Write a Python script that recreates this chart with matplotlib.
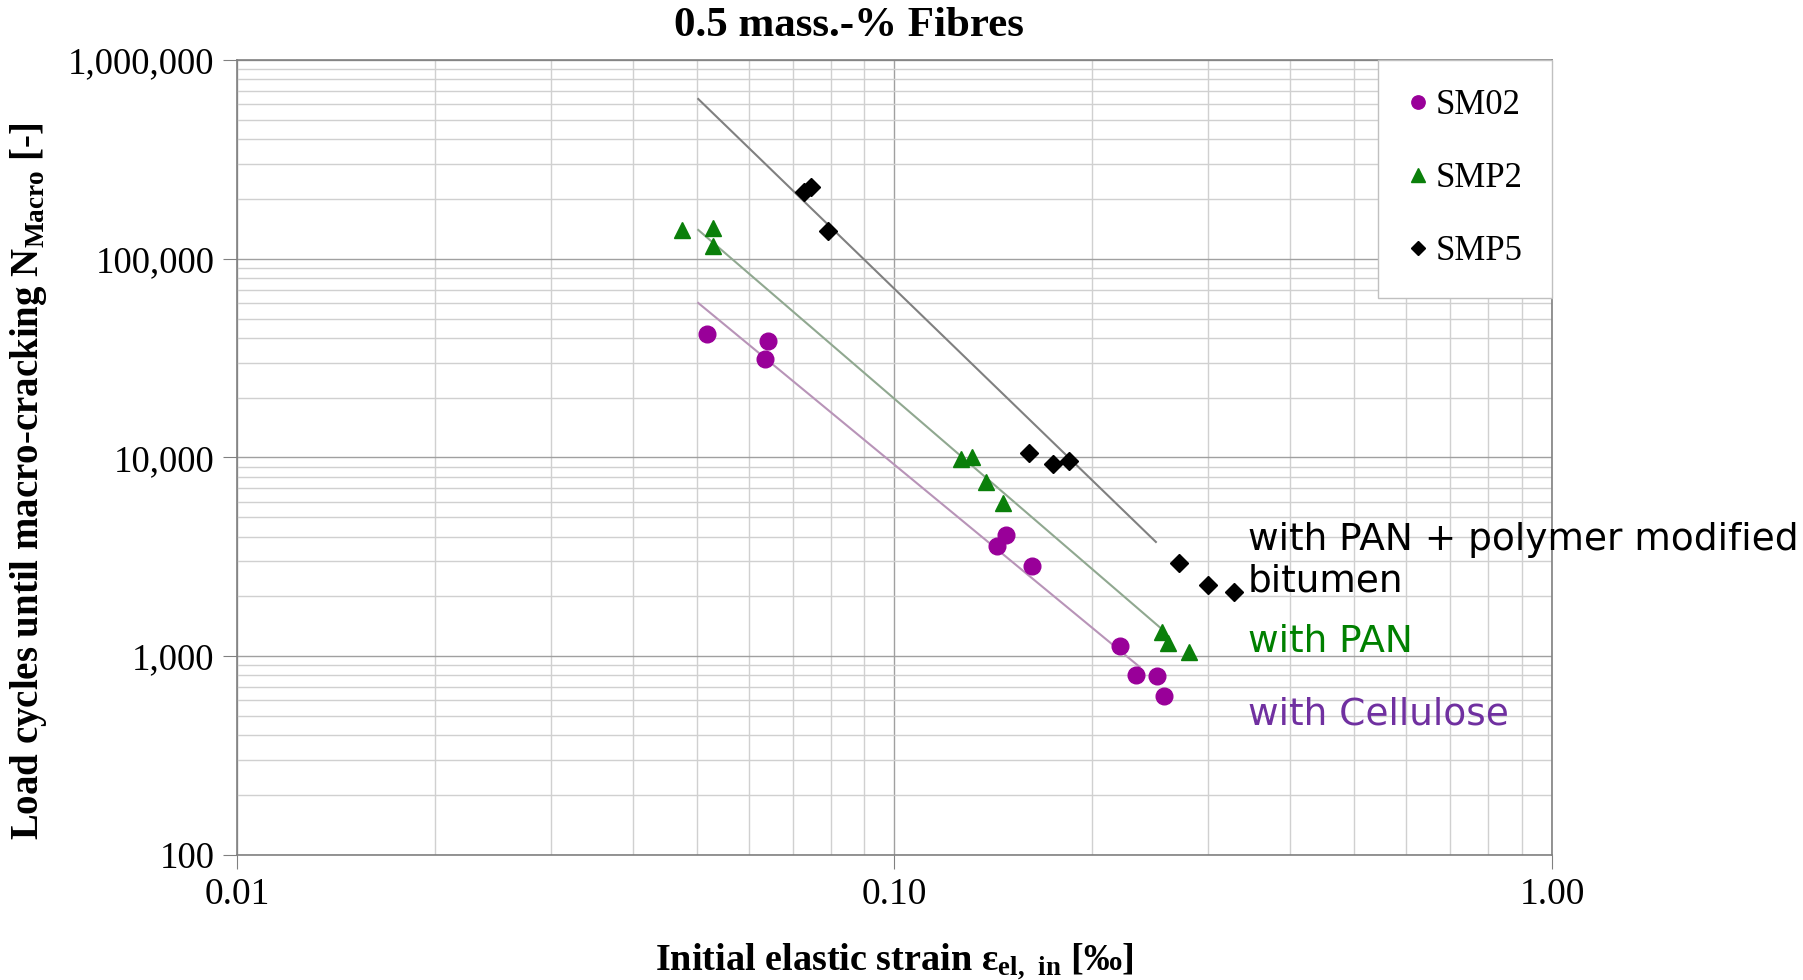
import numpy as np
import matplotlib
matplotlib.use("Agg")
import matplotlib.pyplot as plt
from matplotlib.ticker import LogLocator, FixedLocator, NullFormatter

# measured points: initial elastic strain [permille] vs load cycles
sm02_x = [0.0519, 0.0642, 0.0635, 0.1478, 0.1432, 0.1618, 0.2204, 0.2330, 0.2507, 0.2570]
sm02_y = [41800, 38500, 31300, 4070, 3590, 2850, 1130, 805, 796, 631]

smp2_x = [0.0475, 0.0530, 0.0530, 0.1262, 0.1312, 0.1378, 0.1462, 0.2551, 0.2606, 0.2806]
smp2_y = [139600, 142800, 115900, 9830, 10060, 7530, 5900, 1324, 1166, 1050]

smp5_x = [0.0728, 0.0746, 0.0792, 0.1602, 0.1742, 0.1842, 0.2709, 0.2998, 0.3284]
smp5_y = [216700, 229600, 137900, 10540, 9270, 9600, 2946, 2283, 2105]

# trend lines (start / end)
trend_sm02_x = [0.0503, 0.236]
trend_sm02_y = [59900, 883]
trend_smp2_x = [0.0503, 0.256]
trend_smp2_y = [139600, 1355]
trend_smp5_x = [0.0503, 0.2498]
trend_smp5_y = [636500, 3757]

yticks = [100, 1000, 10000, 100000, 1000000]
ytick_labels = ["100", "1,000", "10,000", "100,000", "1,000,000"]
xticks = [0.01, 0.1, 1.0]
xtick_labels = ["0.01", "0.10", "1.00"]

serif = "Liberation Serif"

fig = plt.figure(figsize=(18.03, 9.80), dpi=100)
ax = fig.add_axes([0.1314, 0.1276, 0.7294, 0.8112])
ax.set_xscale("log")
ax.set_yscale("log")
ax.set_xlim(0.01, 1.0)
ax.set_ylim(100, 1000000)

ax.grid(which="major", color="#a0a0a0", linewidth=1.0)
ax.grid(which="minor", color="#d0d0d0", linewidth=1.0)
ax.xaxis.set_minor_locator(LogLocator(base=10, subs=np.arange(2, 10)))
ax.yaxis.set_minor_locator(LogLocator(base=10, subs=np.arange(2, 10)))
ax.xaxis.set_minor_formatter(NullFormatter())
ax.yaxis.set_minor_formatter(NullFormatter())
ax.set_axisbelow(True)

ax.plot(trend_smp5_x, trend_smp5_y, color="#808080", lw=1.5, zorder=2)
ax.plot(trend_smp2_x, trend_smp2_y, color="#90a890", lw=1.5, zorder=2)
ax.plot(trend_sm02_x, trend_sm02_y, color="#b894b8", lw=1.5, zorder=2)

ax.plot(sm02_x, sm02_y, "o", color="#990099", ms=12, ls="none", label="SM02", zorder=3)
ax.plot(smp2_x, smp2_y, "^", color="#0a7f0a", ms=12, ls="none", label="SMP2", zorder=3)
ax.plot(smp5_x, smp5_y, "D", color="black", ms=9, ls="none", label="SMP5", zorder=3)

ax.yaxis.set_major_locator(FixedLocator(yticks))
ax.set_yticklabels(ytick_labels, fontfamily=serif, fontsize=26.5)
ax.xaxis.set_major_locator(FixedLocator(xticks))
ax.set_xticklabels(xtick_labels, fontfamily=serif, fontsize=27)
ax.tick_params(which="major", direction="out", length=10, color="#808080", pad=6)
ax.tick_params(which="minor", length=0)
for s in ax.spines.values():
    s.set_color("#808080")
    s.set_linewidth(1.2)

leg = ax.legend(loc="upper right", borderaxespad=0, prop={"family": serif, "size": 25},
                markerscale=0.8, handlelength=0.6, handletextpad=0.2, labelspacing=1.15,
                borderpad=0.85, fancybox=False, framealpha=1, edgecolor="#c0c0c0")

ax.set_ylabel(r"Load cycles until macro-cracking N$_{\mathregular{Macro}}$ [-]",
              fontfamily=serif, fontsize=28, fontweight="bold", labelpad=14)
ax.yaxis.label.set_y(0.47)
ax.set_xlabel(r"Initial elastic strain $\mathregular{\varepsilon_{el,\ in}}$ [‰]",
              fontfamily=serif, fontsize=27.5, fontweight="bold", labelpad=21)

fig.text(0.471, 0.973, "0.5 mass.-% Fibres", fontfamily=serif, fontsize=31,
         fontweight="bold", ha="center", va="center")

fig.text(0.692, 0.428, "with PAN + polymer modified\nbitumen", fontfamily="DejaVu Sans",
         fontsize=27, color="black", ha="left", va="center", linespacing=1.2)
fig.text(0.692, 0.345, "with PAN", fontfamily="DejaVu Sans", fontsize=27,
         color="#008000", ha="left", va="center")
fig.text(0.692, 0.271, "with Cellulose", fontfamily="DejaVu Sans", fontsize=27,
         color="#7030a0", ha="left", va="center")

fig.savefig("out.png", dpi=100)
